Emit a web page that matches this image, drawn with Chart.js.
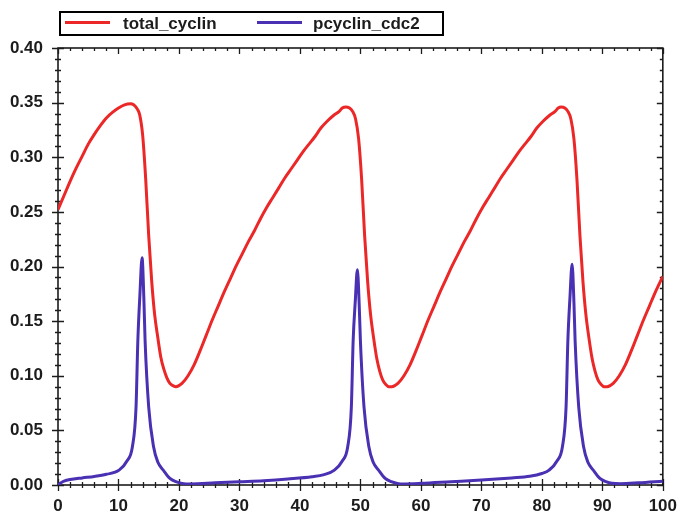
<!DOCTYPE html>
<html>
<head>
<meta charset="utf-8">
<title>total_cyclin / pcyclin_cdc2</title>
<script src="https://cdn.jsdelivr.net/npm/chart.js@4/dist/chart.umd.min.js"></script>
<style>
  html, body { margin: 0; padding: 0; background: #ffffff; }
  #wrap { width: 688px; height: 516px; }
</style>
</head>
<body>
<div id="wrap"><canvas id="c" width="688" height="516"></canvas></div>
<script>
// Simulation output: time points and concentrations for each species.
const totalCyclinTime = [
  0, 1, 2, 3, 4, 5, 6, 7, 8, 9, 10, 11, 12,
  12.5, 13, 13.5, 14, 14.5, 15, 15.5, 16, 16.5, 17, 17.5, 18, 18.5, 19, 19.5,
  20.5, 21.5, 22.5, 23.5, 24.5, 25.5, 26.5, 27.5, 28.5, 29.5, 30.5, 31.5, 32.5, 33.5,
  34.5, 35.5, 36.5, 37.5, 38.5, 39.5, 40.5, 41.5, 42.5, 43.5, 44.5, 45.5, 46.5, 47, 47.6,
  48.2, 48.7, 49.2, 49.7, 50.2, 50.7, 51.2, 51.7, 52.2, 52.7, 53.2, 53.7, 54.2, 54.7, 55.2,
  56.2, 57.2, 58.2, 59.2, 60.2, 61.2, 62.2, 63.2, 64.2, 65.2, 66.2, 67.2, 68.2, 69.2,
  70.2, 71.2, 72.2, 73.2, 74.2, 75.2, 76.2, 77.2, 78.2, 79.2, 80.2, 81.2, 82.2, 82.7, 83.2,
  83.8, 84.3, 84.8, 85.3, 85.8, 86.3, 86.8, 87.3, 87.8, 88.3, 88.8, 89.3, 89.8, 90.3, 90.8,
  91.8, 92.8, 93.8, 94.8, 95.8, 96.8, 97.8, 98.8, 100
];
const totalCyclin = [
  0.252, 0.265, 0.278, 0.290, 0.301, 0.312, 0.321, 0.329, 0.336, 0.341, 0.345, 0.348, 0.349,
  0.348, 0.345, 0.339, 0.320, 0.280, 0.228, 0.186, 0.155, 0.135, 0.117, 0.106, 0.098, 0.093, 0.091, 0.090,
  0.093, 0.100, 0.110, 0.123, 0.137, 0.151, 0.164, 0.177, 0.189, 0.201, 0.212, 0.223, 0.233, 0.244,
  0.254, 0.263, 0.272, 0.281, 0.289, 0.297, 0.305, 0.312, 0.319, 0.327, 0.333, 0.338, 0.342, 0.345, 0.346,
  0.345, 0.342, 0.335, 0.317, 0.280, 0.228, 0.186, 0.155, 0.134, 0.116, 0.104, 0.096, 0.092, 0.090, 0.090,
  0.093, 0.100, 0.110, 0.123, 0.137, 0.151, 0.164, 0.177, 0.189, 0.201, 0.212, 0.223, 0.233, 0.244,
  0.254, 0.263, 0.272, 0.281, 0.289, 0.297, 0.305, 0.312, 0.319, 0.327, 0.333, 0.338, 0.342, 0.345, 0.346,
  0.345, 0.342, 0.335, 0.317, 0.280, 0.228, 0.186, 0.155, 0.134, 0.116, 0.104, 0.096, 0.092, 0.090, 0.090,
  0.093, 0.100, 0.110, 0.123, 0.137, 0.151, 0.164, 0.177, 0.191
];

const pcyclinCdc2Time = [
  0, 0.5, 1, 2, 4, 6, 8, 10.1, 11.4, 12.3, 12.9, 13.2, 13.55, 13.9, 14.2, 14.4, 15, 15.8, 16.5,
  17.4, 18.5, 19.5, 20.5, 22, 26, 30, 34, 38, 42, 44, 45.7, 47, 47.9, 48.5, 48.8, 49.15, 49.5,
  49.8, 50, 50.6, 51.4, 52.1, 53, 54.1, 55.1, 56.1, 57, 60, 65, 70, 75, 78, 80, 81.2, 82.5, 83.4,
  84, 84.3, 84.65, 85, 85.3, 85.5, 86.1, 86.9, 87.6, 88.5, 89.6, 90.6, 91.6, 93, 96, 100
];
const pcyclinCdc2 = [
  0.000, 0.002, 0.0035, 0.005, 0.0065, 0.0078, 0.0098, 0.0136, 0.022, 0.035, 0.071, 0.132, 0.175, 0.208, 0.170, 0.132, 0.071, 0.035, 0.021,
  0.0136, 0.006, 0.003, 0.0015, 0.001, 0.002, 0.003, 0.004, 0.0055, 0.0075, 0.0095, 0.0136, 0.022, 0.035, 0.071, 0.132, 0.168, 0.197,
  0.165, 0.132, 0.071, 0.035, 0.021, 0.0136, 0.006, 0.003, 0.0015, 0.001, 0.0015, 0.003, 0.0045, 0.0065, 0.008, 0.0105, 0.0136, 0.022, 0.035,
  0.071, 0.132, 0.172, 0.202, 0.168, 0.132, 0.071, 0.035, 0.021, 0.0136, 0.006, 0.003, 0.0015, 0.0012, 0.002, 0.0035
];

const seriesNames = ['total_cyclin', 'pcyclin_cdc2'];
const xTickValues = [0, 10, 20, 30, 40, 50, 60, 70, 80, 90, 100];
const yTickValues = [0, 0.05, 0.10, 0.15, 0.20, 0.25, 0.30, 0.35, 0.40];
const yTickLabels = ['0.00', '0.05', '0.10', '0.15', '0.20', '0.25', '0.30', '0.35', '0.40'];

const RED = '#ec2727';
const BLUE = '#4a30b2';
const INK = '#1c1c1c';
const FONT = 'Liberation Sans, Arial, sans-serif';
const MINOR_PER_MAJOR = 5;

const toPoints = (xs, ys) => xs.map((x, i) => ({ x: x, y: ys[i] }));

// Frame with ticks on all four sides: major/minor ticks cross the left and
// bottom axes, and point inward on the top and right.
const frameTicks = {
  id: 'frameTicks',
  beforeDatasetsDraw(chart) {
    const { ctx, chartArea: a, scales } = chart;
    const xs = scales.x, ys = scales.y;
    ctx.save();
    ctx.strokeStyle = INK;
    ctx.lineWidth = 1.6;
    ctx.strokeRect(a.left, a.top, a.right - a.left, a.bottom - a.top);
    ctx.lineWidth = 1.3;
    ctx.beginPath();
    for (let i = 0; i < xTickValues.length; i++) {
      const v0 = xTickValues[i];
      const next = xTickValues[i + 1];
      const subs = next === undefined ? 1 : MINOR_PER_MAJOR;
      for (let k = 0; k < subs; k++) {
        const v = next === undefined ? v0 : v0 + (next - v0) * k / MINOR_PER_MAJOR;
        const px = Math.round(xs.getPixelForValue(v)) + 0.5;
        const L = k === 0 ? 6 : 3;
        ctx.moveTo(px, a.bottom - L); ctx.lineTo(px, a.bottom + L);
        ctx.moveTo(px, a.top); ctx.lineTo(px, a.top + L);
      }
    }
    for (let i = 0; i < yTickValues.length; i++) {
      const v0 = yTickValues[i];
      const next = yTickValues[i + 1];
      const subs = next === undefined ? 1 : MINOR_PER_MAJOR;
      for (let k = 0; k < subs; k++) {
        const v = next === undefined ? v0 : v0 + (next - v0) * k / MINOR_PER_MAJOR;
        const py = Math.round(ys.getPixelForValue(v)) + 0.5;
        const L = k === 0 ? 6 : 3;
        ctx.moveTo(a.left - L, py); ctx.lineTo(a.left + L, py);
        ctx.moveTo(a.right - L, py); ctx.lineTo(a.right, py);
      }
    }
    ctx.stroke();
    ctx.restore();
  }
};

// Boxed legend along the top edge.
const boxedLegend = {
  id: 'boxedLegend',
  afterDraw(chart) {
    const { ctx } = chart;
    const box = { x: 60, y: 12, w: 383, h: 23 };
    const items = [
      { lineX: 65, textX: 123 },
      { lineX: 257, textX: 313 }
    ];
    ctx.save();
    ctx.fillStyle = '#ffffff';
    ctx.fillRect(box.x, box.y, box.w, box.h);
    ctx.strokeStyle = '#000000';
    ctx.lineWidth = 2;
    ctx.strokeRect(box.x, box.y, box.w, box.h);
    ctx.font = 'bold 17px ' + FONT;
    ctx.textBaseline = 'middle';
    ctx.textAlign = 'left';
    chart.data.datasets.forEach((ds, i) => {
      const it = items[i];
      const cy = box.y + box.h / 2;
      ctx.strokeStyle = ds.borderColor;
      ctx.lineWidth = 3;
      ctx.beginPath();
      ctx.moveTo(it.lineX, cy - 1);
      ctx.lineTo(it.lineX + 45, cy - 1);
      ctx.stroke();
      ctx.fillStyle = INK;
      ctx.fillText(ds.label, it.textX, cy + 1);
    });
    ctx.restore();
  }
};

new Chart(document.getElementById('c'), {
  type: 'line',
  data: {
    datasets: [
      {
        label: seriesNames[0],
        data: toPoints(totalCyclinTime, totalCyclin),
        borderColor: RED,
        borderWidth: 3,
        pointRadius: 0,
        cubicInterpolationMode: 'monotone',
        fill: false
      },
      {
        label: seriesNames[1],
        data: toPoints(pcyclinCdc2Time, pcyclinCdc2),
        borderColor: BLUE,
        borderWidth: 3,
        pointRadius: 0,
        cubicInterpolationMode: 'monotone',
        fill: false
      }
    ]
  },
  options: {
    responsive: false,
    animation: false,
    devicePixelRatio: 1,
    layout: { padding: { top: 48, right: 16, left: 0, bottom: 0 } },
    plugins: {
      legend: { display: false },
      tooltip: { enabled: false }
    },
    scales: {
      x: {
        type: 'linear',
        min: 0,
        max: 100,
        afterBuildTicks: (s) => { s.ticks = xTickValues.map(v => ({ value: v })); },
        afterFit: (s) => { s.height = 31; },
        ticks: {
          autoSkip: false,
          maxRotation: 0,
          padding: 11,
          color: INK,
          font: { family: FONT, size: 17, weight: 'bold' },
          callback: (v) => String(v)
        },
        grid: { display: false, drawTicks: false },
        border: { display: false }
      },
      y: {
        type: 'linear',
        min: 0,
        max: 0.4,
        afterBuildTicks: (s) => { s.ticks = yTickValues.map(v => ({ value: v })); },
        afterFit: (s) => { s.width = 58; },
        ticks: {
          autoSkip: false,
          padding: 15,
          color: INK,
          font: { family: FONT, size: 17, weight: 'bold' },
          callback: (v) => {
            const i = yTickValues.findIndex(t => Math.abs(t - v) < 1e-9);
            return i >= 0 ? yTickLabels[i] : '';
          }
        },
        grid: { display: false, drawTicks: false },
        border: { display: false }
      }
    }
  },
  plugins: [frameTicks, boxedLegend]
});
</script>
</body>
</html>
